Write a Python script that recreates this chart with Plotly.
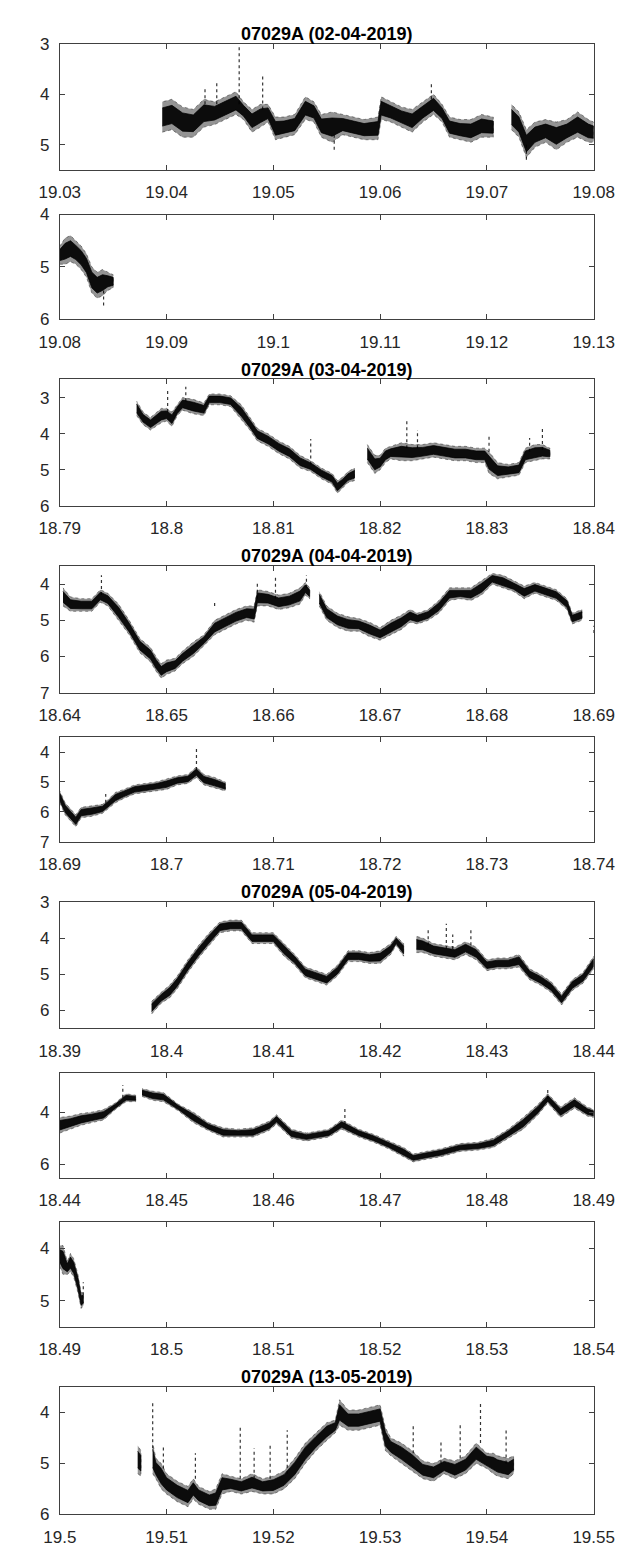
import plotly.graph_objects as go

# ---------------- data ----------------
# Panel 1: 02-04-2019, x 19.03-19.08
p1a_x  = [19.0396, 19.0405, 19.0415, 19.0425, 19.0435, 19.0445, 19.0455, 19.0465, 19.0472, 19.0480,
          19.0488, 19.0495, 19.0502, 19.0510, 19.0520, 19.0530, 19.0538, 19.0545, 19.0555, 19.0565,
          19.0575, 19.0585, 19.0598, 19.0601, 19.0610, 19.0620, 19.0630, 19.0640, 19.0650, 19.0658,
          19.0665, 19.0675, 19.0685, 19.0695, 19.0706]
p1a_lo = [4.15, 4.10, 4.25, 4.30, 4.10, 4.15, 4.05, 3.95, 4.15, 4.30,
          4.20, 4.20, 4.45, 4.45, 4.40, 4.05, 4.15, 4.40, 4.35, 4.40,
          4.45, 4.50, 4.45, 4.05, 4.15, 4.25, 4.30, 4.15, 4.00, 4.20,
          4.45, 4.50, 4.50, 4.40, 4.45]
p1a_hi = [4.75, 4.70, 4.85, 4.85, 4.65, 4.60, 4.50, 4.40, 4.50, 4.75,
          4.65, 4.55, 4.90, 4.85, 4.80, 4.50, 4.55, 4.85, 4.95, 4.80,
          4.85, 4.90, 4.90, 4.50, 4.55, 4.65, 4.75, 4.55, 4.40, 4.55,
          4.85, 4.90, 4.95, 4.85, 4.85]
p1b_x  = [19.0723, 19.0730, 19.0737, 19.0745, 19.0755, 19.0765, 19.0775, 19.0785, 19.0795, 19.0800]
p1b_lo = [4.20, 4.35, 4.70, 4.55, 4.50, 4.55, 4.50, 4.35, 4.50, 4.55]
p1b_hi = [4.70, 4.85, 5.25, 5.05, 4.95, 5.10, 4.95, 4.85, 4.95, 4.95]
p1_spk_x   = [19.0468, 19.0490, 19.0436, 19.0447, 19.0648, 19.0737, 19.0557]
p1_spk_top = [3.05, 3.65, 3.85, 3.77, 3.75, 5.30, 5.10]
p1_spk_base = [4.20, 4.30, 4.20, 4.20, 4.10, 5.00, 4.80]

# Panel 2: x 19.08-19.13
p2a_x  = [19.0800, 19.0805, 19.0810, 19.0815, 19.0820, 19.0825, 19.0830, 19.0835, 19.0840, 19.0845, 19.0850]
p2a_lo = [4.60, 4.45, 4.40, 4.50, 4.60, 4.75, 5.00, 5.10, 5.05, 5.10, 5.15]
p2a_hi = [4.95, 4.95, 4.90, 4.95, 5.05, 5.20, 5.50, 5.60, 5.55, 5.45, 5.40]
p2_spk_x   = [19.0841]
p2_spk_top = [5.75]
p2_spk_base = [5.45]

# Panel 3: 03-04-2019, x 18.79-18.84
p3a_x  = [18.7972, 18.7978, 18.7985, 18.7995, 18.8000, 18.8005, 18.8010, 18.8015, 18.8025, 18.8035,
          18.8040, 18.8050, 18.8060, 18.8070, 18.8078, 18.8085, 18.8095, 18.8105, 18.8115, 18.8125,
          18.8135, 18.8145, 18.8155, 18.8160, 18.8165, 18.8170, 18.8176]
p3a_lo = [3.10, 3.40, 3.55, 3.30, 3.30, 3.40, 3.20, 3.00, 3.05, 3.15,
          2.90, 2.90, 2.95, 3.20, 3.55, 3.85, 4.00, 4.20, 4.35, 4.60,
          4.75, 4.95, 5.10, 5.30, 5.20, 5.05, 4.95]
p3a_hi = [3.50, 3.75, 3.90, 3.70, 3.65, 3.80, 3.50, 3.35, 3.45, 3.50,
          3.20, 3.20, 3.25, 3.60, 3.90, 4.20, 4.35, 4.55, 4.70, 4.95,
          5.05, 5.25, 5.40, 5.65, 5.50, 5.35, 5.30]
p3b_x  = [18.8188, 18.8195, 18.8200, 18.8205, 18.8210, 18.8220, 18.8230, 18.8240, 18.8250, 18.8260,
          18.8270, 18.8280, 18.8290, 18.8298, 18.8302, 18.8310, 18.8320, 18.8330, 18.8336, 18.8345,
          18.8352, 18.8359]
p3b_lo = [4.30, 4.60, 4.60, 4.40, 4.35, 4.25, 4.30, 4.30, 4.25, 4.30,
          4.35, 4.35, 4.40, 4.40, 4.50, 4.80, 4.85, 4.80, 4.40, 4.30,
          4.30, 4.40]
p3b_hi = [4.80, 5.10, 5.00, 4.80, 4.70, 4.75, 4.75, 4.70, 4.65, 4.70,
          4.75, 4.75, 4.80, 4.80, 5.10, 5.25, 5.20, 5.15, 4.80, 4.75,
          4.70, 4.70]
p3_spk_x   = [18.8001, 18.8018, 18.8135, 18.8225, 18.8235, 18.8302, 18.8340, 18.8352]
p3_spk_top = [2.75, 2.70, 4.15, 3.64, 3.90, 4.00, 4.12, 3.82]
p3_spk_base = [3.40, 3.10, 4.85, 4.40, 4.40, 4.50, 4.50, 4.45]

# Panel 4: 04-04-2019, x 18.64-18.69
p4a_x  = [18.6403, 18.6410, 18.6420, 18.6430, 18.6438, 18.6445, 18.6455, 18.6465, 18.6475, 18.6485,
          18.6490, 18.6495, 18.6500, 18.6508, 18.6515, 18.6525, 18.6535, 18.6545, 18.6555, 18.6565,
          18.6575, 18.6582, 18.6585, 18.6595, 18.6605, 18.6615, 18.6625, 18.6630, 18.6634]
p4a_lo = [4.10, 4.35, 4.40, 4.40, 4.15, 4.25, 4.55, 5.00, 5.50, 5.75,
          6.00, 6.20, 6.10, 6.05, 5.85, 5.60, 5.40, 5.00, 4.85, 4.70,
          4.60, 4.60, 4.15, 4.20, 4.30, 4.25, 4.10, 3.95, 4.10]
p4a_hi = [4.60, 4.75, 4.75, 4.75, 4.50, 4.60, 5.00, 5.40, 5.90, 6.15,
          6.40, 6.60, 6.50, 6.40, 6.20, 6.00, 5.70, 5.40, 5.25, 5.10,
          5.00, 5.05, 4.60, 4.60, 4.70, 4.65, 4.55, 4.30, 4.40]
p4b_x  = [18.6643, 18.6650, 18.6660, 18.6670, 18.6680, 18.6690, 18.6700, 18.6710, 18.6720, 18.6728,
          18.6735, 18.6745, 18.6755, 18.6765, 18.6775, 18.6785, 18.6795, 18.6805, 18.6815, 18.6825,
          18.6835, 18.6845, 18.6855, 18.6865, 18.6875, 18.6880, 18.6889]
p4b_lo = [4.20, 4.60, 4.80, 4.90, 4.95, 5.05, 5.20, 5.00, 4.85, 4.70,
          4.80, 4.70, 4.45, 4.10, 4.10, 4.10, 3.90, 3.70, 3.75, 3.90,
          4.05, 3.95, 4.05, 4.15, 4.40, 4.80, 4.70]
p4b_hi = [4.60, 5.00, 5.20, 5.30, 5.30, 5.45, 5.55, 5.40, 5.25, 5.05,
          5.10, 5.00, 4.80, 4.45, 4.40, 4.45, 4.30, 4.00, 4.10, 4.20,
          4.40, 4.25, 4.35, 4.45, 4.70, 5.10, 5.00]
p4_spk_x   = [18.6439, 18.6585, 18.6602, 18.6631, 18.6545, 18.6900]
p4_spk_top = [3.75, 3.90, 3.75, 3.75, 4.50, 5.15]
p4_spk_base = [4.30, 4.40, 4.40, 4.10, 4.60, 5.35]

# Panel 5: x 18.69-18.74
p5a_x  = [18.6900, 18.6905, 18.6910, 18.6915, 18.6920, 18.6930, 18.6940, 18.6945, 18.6952, 18.6960,
          18.6970, 18.6980, 18.6990, 18.7000, 18.7010, 18.7020, 18.7028, 18.7035, 18.7045, 18.7055]
p5a_lo = [5.30, 5.70, 5.90, 6.10, 5.85, 5.80, 5.75, 5.60, 5.35, 5.25,
          5.10, 5.05, 5.00, 4.90, 4.80, 4.75, 4.50, 4.75, 4.85, 5.00]
p5a_hi = [5.70, 6.10, 6.30, 6.50, 6.20, 6.15, 6.05, 5.90, 5.70, 5.55,
          5.40, 5.35, 5.30, 5.25, 5.10, 5.05, 4.85, 5.10, 5.20, 5.30]
p5_spk_x   = [18.7028, 18.6943]
p5_spk_top = [3.80, 5.40]
p5_spk_base = [4.60, 5.70]

# Panel 6: 05-04-2019, x 18.39-18.44
p6a_x  = [18.3986, 18.3995, 18.4003, 18.4010, 18.4020, 18.4030, 18.4040, 18.4050, 18.4060, 18.4070,
          18.4080, 18.4090, 18.4100, 18.4110, 18.4120, 18.4130, 18.4140, 18.4150, 18.4160, 18.4170,
          18.4180, 18.4190, 18.4200, 18.4210, 18.4215, 18.4222]
p6a_lo = [5.75, 5.50, 5.30, 5.05, 4.60, 4.20, 3.85, 3.55, 3.50, 3.50,
          3.85, 3.85, 3.85, 4.15, 4.45, 4.80, 4.90, 5.00, 4.75, 4.35,
          4.35, 4.40, 4.35, 4.15, 3.95, 4.15]
p6a_hi = [6.10, 5.80, 5.65, 5.40, 4.95, 4.55, 4.20, 3.85, 3.80, 3.80,
          4.15, 4.15, 4.15, 4.50, 4.75, 5.10, 5.20, 5.30, 5.05, 4.65,
          4.65, 4.70, 4.70, 4.45, 4.20, 4.50]
p6b_x  = [18.4234, 18.4240, 18.4250, 18.4260, 18.4270, 18.4280, 18.4290, 18.4300, 18.4310, 18.4320,
          18.4330, 18.4340, 18.4350, 18.4360, 18.4370, 18.4380, 18.4390, 18.4400]
p6b_lo = [3.95, 4.00, 4.15, 4.20, 4.25, 4.10, 4.25, 4.60, 4.55, 4.55,
          4.45, 4.85, 5.00, 5.20, 5.55, 5.15, 4.95, 4.50]
p6b_hi = [4.40, 4.40, 4.50, 4.55, 4.60, 4.45, 4.60, 4.90, 4.85, 4.85,
          4.80, 5.15, 5.30, 5.50, 5.85, 5.45, 5.25, 4.85]
p6_spk_x   = [18.4245, 18.4262, 18.4268, 18.4285]
p6_spk_top = [3.70, 3.60, 3.90, 3.75]
p6_spk_base = [4.20, 4.30, 4.30, 4.20]

# Panel 7: x 18.44-18.49
p7a_x  = [18.4400, 18.4410, 18.4420, 18.4430, 18.4441, 18.4452, 18.4462, 18.4471]
p7a_lo = [4.20, 4.15, 4.05, 4.00, 3.90, 3.65, 3.30, 3.35]
p7a_hi = [4.80, 4.65, 4.50, 4.40, 4.30, 3.90, 3.60, 3.60]
p7b_x  = [18.4477, 18.4487, 18.4497, 18.4511, 18.4525, 18.4539, 18.4553, 18.4567, 18.4581, 18.4596,
          18.4603, 18.4617, 18.4631, 18.4652, 18.4664, 18.4680, 18.4694, 18.4708, 18.4722, 18.4731,
          18.4743, 18.4757, 18.4775, 18.4792, 18.4806, 18.4820, 18.4834, 18.4848, 18.4857, 18.4869,
          18.4882, 18.4894, 18.4900]
p7b_lo = [3.10, 3.20, 3.25, 3.70, 4.00, 4.40, 4.60, 4.65, 4.60, 4.35,
          4.10, 4.65, 4.80, 4.65, 4.30, 4.65, 4.85, 5.10, 5.35, 5.60,
          5.50, 5.40, 5.20, 5.15, 5.00, 4.65, 4.20, 3.70, 3.30, 3.80,
          3.45, 3.80, 3.90]
p7b_hi = [3.40, 3.55, 3.60, 3.95, 4.40, 4.70, 4.95, 4.95, 4.95, 4.70,
          4.45, 5.00, 5.10, 4.95, 4.65, 4.95, 5.15, 5.40, 5.70, 5.90,
          5.80, 5.70, 5.50, 5.45, 5.35, 5.00, 4.65, 4.10, 3.65, 4.20,
          3.85, 4.15, 4.20]
p7_spk_x   = [18.4459, 18.4667, 18.4857]
p7_spk_top = [2.96, 3.85, 3.10]
p7_spk_base = [3.45, 4.45, 3.50]

# Panel 8: x 18.49-18.54
p8a_x  = [18.4900, 18.4903, 18.4907, 18.4910, 18.4913, 18.4917, 18.4920, 18.4922]
p8a_lo = [3.95, 3.95, 4.25, 4.10, 4.20, 4.50, 4.85, 4.85]
p8a_hi = [4.35, 4.50, 4.50, 4.45, 4.55, 4.85, 5.15, 5.10]
p8_spk_x   = [18.4922]
p8_spk_top = [4.65]
p8_spk_base = [4.90]

# Panel 9: 13-05-2019, x 19.50-19.55
p9a_x  = [19.5073, 19.5076]
p9a_lo = [4.65, 4.75]
p9a_hi = [5.20, 5.25]
p9b_x  = [19.5087, 19.5090, 19.5095, 19.5100, 19.5110, 19.5120, 19.5125, 19.5130, 19.5140, 19.5146,
          19.5152, 19.5160, 19.5170, 19.5180, 19.5190, 19.5200, 19.5210, 19.5220, 19.5230, 19.5240,
          19.5250, 19.5258, 19.5262, 19.5270, 19.5280, 19.5290, 19.5300, 19.5305, 19.5310, 19.5320,
          19.5330, 19.5340, 19.5350, 19.5360, 19.5370, 19.5380, 19.5390, 19.5400, 19.5406, 19.5410,
          19.5420, 19.5425]
p9b_lo = [4.60, 4.90, 5.00, 5.20, 5.35, 5.45, 5.30, 5.45, 5.55, 5.50,
          5.20, 5.25, 5.30, 5.20, 5.30, 5.25, 5.15, 4.90, 4.60, 4.40,
          4.20, 4.15, 3.75, 3.95, 3.95, 3.90, 3.85, 4.30, 4.50, 4.60,
          4.75, 4.95, 5.00, 4.90, 4.95, 4.85, 4.60, 4.80, 4.80, 4.85,
          4.90, 4.85]
p9b_hi = [5.20, 5.30, 5.50, 5.60, 5.75, 5.85, 5.70, 5.80, 5.90, 5.90,
          5.60, 5.55, 5.60, 5.55, 5.60, 5.60, 5.50, 5.30, 5.00, 4.75,
          4.55, 4.40, 4.25, 4.35, 4.35, 4.30, 4.25, 4.75, 4.85, 5.00,
          5.15, 5.30, 5.35, 5.20, 5.30, 5.20, 5.00, 5.10, 5.20, 5.25,
          5.30, 5.20]
p9_spk_x   = [19.5087, 19.5097, 19.5127, 19.5169, 19.5182, 19.5197, 19.5213, 19.5331, 19.5375, 19.5394, 19.5418, 19.5357]
p9_spk_top = [3.80, 4.65, 4.80, 4.30, 4.70, 4.65, 4.35, 4.25, 4.20, 3.80, 4.30, 4.55]
p9_spk_base = [4.70, 5.10, 5.30, 5.30, 5.30, 5.30, 5.20, 4.80, 4.90, 4.60, 5.00, 5.00]

# titles and axes
titles = ["07029A (02-04-2019)", None, "07029A (03-04-2019)", "07029A (04-04-2019)", None,
          "07029A (05-04-2019)", None, None, "07029A (13-05-2019)"]
x_ranges = [(19.03, 19.08), (19.08, 19.13), (18.79, 18.84), (18.64, 18.69), (18.69, 18.74),
            (18.39, 18.44), (18.44, 18.49), (18.49, 18.54), (19.50, 19.55)]
x_tickvals = [[19.03, 19.04, 19.05, 19.06, 19.07, 19.08],
              [19.08, 19.09, 19.10, 19.11, 19.12, 19.13],
              [18.79, 18.80, 18.81, 18.82, 18.83, 18.84],
              [18.64, 18.65, 18.66, 18.67, 18.68, 18.69],
              [18.69, 18.70, 18.71, 18.72, 18.73, 18.74],
              [18.39, 18.40, 18.41, 18.42, 18.43, 18.44],
              [18.44, 18.45, 18.46, 18.47, 18.48, 18.49],
              [18.49, 18.50, 18.51, 18.52, 18.53, 18.54],
              [19.50, 19.51, 19.52, 19.53, 19.54, 19.55]]
x_ticktext = [["19.03", "19.04", "19.05", "19.06", "19.07", "19.08"],
              ["19.08", "19.09", "19.1", "19.11", "19.12", "19.13"],
              ["18.79", "18.8", "18.81", "18.82", "18.83", "18.84"],
              ["18.64", "18.65", "18.66", "18.67", "18.68", "18.69"],
              ["18.69", "18.7", "18.71", "18.72", "18.73", "18.74"],
              ["18.39", "18.4", "18.41", "18.42", "18.43", "18.44"],
              ["18.44", "18.45", "18.46", "18.47", "18.48", "18.49"],
              ["18.49", "18.5", "18.51", "18.52", "18.53", "18.54"],
              ["19.5", "19.51", "19.52", "19.53", "19.54", "19.55"]]
y_ranges = [(3, 5.5), (4, 6), (2.5, 6), (3.5, 7), (3.5, 7), (3, 6.5), (2.5, 6.5), (3.5, 5.5), (3.5, 6)]
y_tickvals = [[3, 4, 5], [4, 5, 6], [3, 4, 5, 6], [4, 5, 6, 7], [4, 5, 6, 7], [3, 4, 5, 6],
              [4, 6], [4, 5], [4, 5, 6]]

bands = [
    [(p1a_x, p1a_lo, p1a_hi), (p1b_x, p1b_lo, p1b_hi)],
    [(p2a_x, p2a_lo, p2a_hi)],
    [(p3a_x, p3a_lo, p3a_hi), (p3b_x, p3b_lo, p3b_hi)],
    [(p4a_x, p4a_lo, p4a_hi), (p4b_x, p4b_lo, p4b_hi)],
    [(p5a_x, p5a_lo, p5a_hi)],
    [(p6a_x, p6a_lo, p6a_hi), (p6b_x, p6b_lo, p6b_hi)],
    [(p7a_x, p7a_lo, p7a_hi), (p7b_x, p7b_lo, p7b_hi)],
    [(p8a_x, p8a_lo, p8a_hi)],
    [(p9a_x, p9a_lo, p9a_hi), (p9b_x, p9b_lo, p9b_hi)],
]
spikes = [
    (p1_spk_x, p1_spk_top, p1_spk_base), (p2_spk_x, p2_spk_top, p2_spk_base),
    (p3_spk_x, p3_spk_top, p3_spk_base), (p4_spk_x, p4_spk_top, p4_spk_base),
    (p5_spk_x, p5_spk_top, p5_spk_base), (p6_spk_x, p6_spk_top, p6_spk_base),
    (p7_spk_x, p7_spk_top, p7_spk_base), (p8_spk_x, p8_spk_top, p8_spk_base),
    (p9_spk_x, p9_spk_top, p9_spk_base),
]

# ---------------- layout (pixels) ----------------
W, H = 630, 1549
LEFT, RIGHT = 33, 605
plot_tops = [27, 200, 367, 556, 729, 896, 1069, 1220, 1387]
plot_heights = [128, 106, 128, 128, 106, 128, 106, 106, 129]

FONT = "Liberation Sans, Arial, Helvetica, sans-serif"
AXCOL = "#404040"
TXTCOL = "#262626"

fig = go.Figure()
layout = dict(
    width=W, height=H, margin=dict(l=0, r=0, t=0, b=0),
    paper_bgcolor="white", plot_bgcolor="white", showlegend=False,
    font=dict(family=FONT, size=17, color=TXTCOL),
)
annotations = []

for i in range(9):
    n = i + 1
    xa = "x" if n == 1 else f"x{n}"
    ya = "y" if n == 1 else f"y{n}"
    top, h = plot_tops[i], plot_heights[i]
    y0 = 1 - (top + h) / H
    y1 = 1 - top / H

    for (xs, lo, hi) in bands[i]:
        # outer (sparse) envelope
        px = list(xs) + list(xs)[::-1]
        py = list(hi) + list(lo)[::-1]
        fig.add_trace(go.Scatter(x=px, y=py, mode="lines", fill="toself",
                                 fillcolor="rgba(0,0,0,0.42)",
                                 line=dict(color="rgba(0,0,0,0.5)", width=0.8, dash="dot"),
                                 xaxis=xa, yaxis=ya, hoverinfo="skip"))
        # dense core
        core_lo = [l + 0.2 * (u - l) for l, u in zip(lo, hi)]
        core_hi = [u - 0.2 * (u - l) for l, u in zip(lo, hi)]
        py2 = list(core_hi) + list(core_lo)[::-1]
        fig.add_trace(go.Scatter(x=px, y=py2, mode="lines", fill="toself",
                                 fillcolor="rgba(0,0,0,0.92)",
                                 line=dict(color="rgba(0,0,0,0.92)", width=0.8),
                                 xaxis=xa, yaxis=ya, hoverinfo="skip"))

    sx, stop, sbase = spikes[i]
    lx, ly = [], []
    for xv, t, b in zip(sx, stop, sbase):
        lx += [xv, xv, None]
        ly += [b, t, None]
    fig.add_trace(go.Scatter(x=lx, y=ly, mode="lines",
                             line=dict(color="rgba(0,0,0,0.8)", width=1.2, dash="dot"),
                             xaxis=xa, yaxis=ya, hoverinfo="skip"))

    layout["xaxis" if n == 1 else f"xaxis{n}"] = dict(
        domain=[LEFT / W, RIGHT / W], range=list(x_ranges[i]), anchor=ya,
        tickvals=x_tickvals[i], ticktext=x_ticktext[i],
        ticks="inside", ticklen=5, tickwidth=1, tickcolor=AXCOL,
        showline=True, linecolor=AXCOL, linewidth=1, mirror="ticks",
        showgrid=False, zeroline=False, ticklabelstandoff=7,
        tickfont=dict(family=FONT, size=17, color=TXTCOL),
    )
    layout["yaxis" if n == 1 else f"yaxis{n}"] = dict(
        domain=[y0, y1], range=[y_ranges[i][1], y_ranges[i][0]], anchor=xa,
        tickvals=y_tickvals[i], ticktext=[str(v) for v in y_tickvals[i]],
        ticks="inside", ticklen=5, tickwidth=1, tickcolor=AXCOL,
        showline=True, linecolor=AXCOL, linewidth=1, mirror="ticks",
        showgrid=False, zeroline=False, ticklabelstandoff=6,
        tickfont=dict(family=FONT, size=17, color=TXTCOL),
    )
    if titles[i]:
        annotations.append(dict(
            text=f"<b>{titles[i]}</b>", xref="paper", yref="paper",
            x=(LEFT + RIGHT) / 2 / W, y=1 - (top - 10) / H,
            xanchor="center", yanchor="middle", showarrow=False,
            font=dict(family=FONT, size=18, color="black"),
        ))

layout["annotations"] = annotations
fig.update_layout(**layout)
fig.write_html("out.html")
